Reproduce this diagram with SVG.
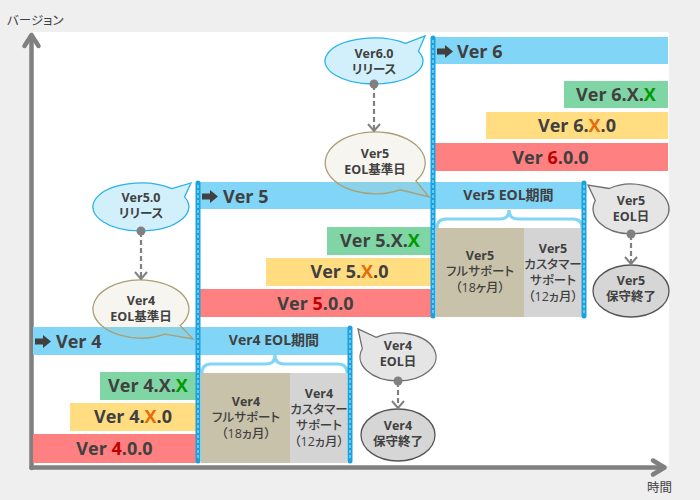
<svg xmlns="http://www.w3.org/2000/svg" width="700" height="500" viewBox="0 0 700 500">
<defs>
<style>
text{font-family:"Open Sans","Noto Sans CJK JP",sans-serif;fill:#404040;font-feature-settings:"palt";}
.big{font-size:18px;font-weight:bold;}
.bigc{font-size:18px;font-weight:bold;text-anchor:middle}
.mid{font-size:14px;font-weight:bold;text-anchor:middle}
.bub{font-size:12.5px;font-weight:bold;text-anchor:middle}
.box{font-size:12.5px;font-weight:500;text-anchor:middle}
.boxb{font-size:12.5px;font-weight:bold;text-anchor:middle}
.ax{font-size:12.5px}
.band{fill:#81d5f7}
.g{fill:#80d5a4}
.y{fill:#ffdd80}
.r{fill:#ff8080}
.full{fill:#c8c2aa}
.cust{fill:#d4d4d4}
.brace{fill:none;stroke:#81d5f7;stroke-width:3}
.vl{stroke:#1ba1dd;stroke-width:5;stroke-linecap:round}
.vld{stroke:#64c8f1;stroke-width:2;stroke-dasharray:3 2}
.rel{fill:#d2f0fb;stroke:#2ab3ea;stroke-width:1.3}
.base{fill:rgb(200,190,150);fill-opacity:.15;stroke:#a99f75;stroke-width:1.3}
.eol{fill:#e5e5e5;stroke:#6e6e6e;stroke-width:1.3}
.end{fill:#d6d6d6;stroke:#555555;stroke-width:1.3}
.conn{stroke:#808080;stroke-width:2.2;stroke-dasharray:5 3;fill:none}
.dot{fill:#808080}
.axis{stroke:#808080;stroke-width:4.5;fill:none;stroke-linecap:round;stroke-linejoin:round}
.ico{fill:#404040}
.xr{fill:#c00000}.xo{fill:#e46c0a}.xg{fill:#009a00}
</style>
<marker id="ah" viewBox="-2 -8 11 16" refX="7" refY="0" markerWidth="11" markerHeight="16" markerUnits="userSpaceOnUse" orient="auto">
<path d="M0,-6 L7,0 L0,6" fill="none" stroke="#808080" stroke-width="2"/>
</marker>
<path id="icon" d="M0,-3 h8 v-3.5 l8,6.5 l-8,6.5 v-3.5 h-8z"/>
</defs>

<rect x="0" y="0" width="700" height="500" fill="#efefef"/>
<rect x="33" y="32" width="636" height="434" fill="#ffffff"/>

<g id="axes">
<polyline class="axis" points="31.5,468 31.5,36"/>
<polyline class="axis" points="24.5,46 31.5,35 38.5,46"/>
<polyline class="axis" points="31.5,467.5 664,467.5"/>
<polyline class="axis" points="653,460.5 664.5,467.5 653,474.5"/>
<text class="ax" x="7" y="25">バージョン</text>
<text class="ax" x="647" y="492">時間</text>
</g>

<g id="ver6">
<rect class="band" x="433" y="37" width="235" height="27"/>
<use href="#icon" x="437" y="51.5" class="ico"/>
<text class="big" x="457" y="57.5">Ver 6</text>
<rect class="g" x="564" y="81" width="104" height="27"/>
<text class="bigc" x="616" y="101">Ver 6.X.<tspan class="xg">X</tspan></text>
<rect class="y" x="486" y="112" width="182" height="27"/>
<text class="bigc" x="577" y="132">Ver 6.<tspan class="xo">X</tspan>.0</text>
<rect class="r" x="433" y="143" width="235" height="28"/>
<text class="bigc" x="550.5" y="163.5">Ver <tspan class="xr">6</tspan>.0.0</text>
</g>

<g id="ver5">
<rect class="band" x="198" y="182" width="235" height="27"/>
<use href="#icon" x="202" y="196.5" class="ico"/>
<text class="big" x="223" y="202.5">Ver 5</text>
<rect class="g" x="327" y="227" width="106" height="28"/>
<text class="bigc" x="380" y="247">Ver 5.X.<tspan class="xg">X</tspan></text>
<rect class="y" x="266" y="258" width="167" height="28"/>
<text class="bigc" x="349.5" y="278">Ver 5.<tspan class="xo">X</tspan>.0</text>
<rect class="r" x="198" y="289" width="235" height="28"/>
<text class="bigc" x="315.5" y="309.5">Ver <tspan class="xr">5</tspan>.0.0</text>
</g>

<g id="ver4">
<rect class="band" x="33" y="327" width="165" height="28"/>
<use href="#icon" x="35" y="341.5" class="ico"/>
<text class="big" x="56" y="347.5">Ver 4</text>
<rect class="g" x="100" y="372" width="98" height="28"/>
<text class="bigc" x="148" y="392">Ver 4.X.<tspan class="xg">X</tspan></text>
<rect class="y" x="70" y="403" width="128" height="28"/>
<text class="bigc" x="133" y="423">Ver 4.<tspan class="xo">X</tspan>.0</text>
<rect class="r" x="33" y="434" width="165" height="29"/>
<text class="bigc" x="114.5" y="455">Ver <tspan class="xr">4</tspan>.0.0</text>
</g>

<g id="ver5-eol">
<rect class="band" x="433" y="182" width="151" height="27"/>
<text class="mid" x="508.5" y="200">Ver5 EOL期間</text>
<path class="brace" d="M437,228 Q437,219 446,219 L500,219 Q509,219 509,210 Q509,219 518,219 L573,219 Q582,219 582,228"/>
<rect class="full" x="436" y="228" width="88" height="89"/>
<text class="boxb" x="480" y="260">Ver5</text>
<text class="box" x="480" y="276">フルサポート</text>
<text class="box" x="480" y="292">（18ヶ月）</text>
<rect class="cust" x="524" y="228" width="58" height="89"/>
<text class="boxb" x="553" y="253">Ver5</text>
<text class="box" x="553" y="269">カスタマー</text>
<text class="box" x="553" y="285">サポート</text>
<text class="box" x="553" y="301">（12ヵ月）</text>
</g>

<g id="ver4-eol">
<rect class="band" x="198" y="327" width="152" height="28"/>
<text class="mid" x="274" y="345">Ver4 EOL期間</text>
<path class="brace" d="M202,373 Q202,364 211,364 L266,364 Q275,364 275,355 Q275,364 284,364 L338,364 Q347,364 347,373"/>
<rect class="full" x="201" y="373" width="89" height="90"/>
<text class="boxb" x="246" y="406">Ver4</text>
<text class="box" x="246" y="422">フルサポート</text>
<text class="box" x="246" y="438">（18ヵ月）</text>
<rect class="cust" x="290" y="373" width="57" height="90"/>
<text class="boxb" x="319" y="398">Ver4</text>
<text class="box" x="319" y="414">カスタマー</text>
<text class="box" x="319" y="430">サポート</text>
<text class="box" x="319" y="446">（12ヵ月）</text>
</g>

<g id="ver6-release">
<path class="rel" d="M405.5,43.4 L425,36 L418.4,51.3 A49,23 0 1 1 405.5,43.4 Z"/>
<text class="bub" x="374" y="57.5">Ver6.0</text>
<text class="bub" x="374" y="73.5">リリース</text>
</g>

<g id="ver5-eol-base">
<path class="base" d="M416,180.8 L429,197 L400,189.8 A50,31 0 1 1 416,180.8 Z"/>
<text class="bub" x="375" y="157.5">Ver5</text>
<text class="bub" x="375" y="173.5">EOL基準日</text>
</g>

<g id="ver5-release">
<path class="rel" d="M171.9,188.6 L191,183 L184.5,196.9 A48,24 0 1 1 171.9,188.6 Z"/>
<text class="bub" x="141" y="201.5">Ver5.0</text>
<text class="bub" x="141" y="217.5">リリース</text>
</g>

<g id="ver4-eol-base">
<path class="base" d="M180.3,325.6 L193,339 L165,334.1 A48,29 0 1 1 180.3,325.6 Z"/>
<text class="bub" x="141" y="304.5">Ver4</text>
<text class="bub" x="141" y="320.5">EOL基準日</text>
</g>

<g id="ver5-eol-day">
<path class="eol" d="M595.3,200.5 L588,185 L609.2,188.5 A38,25 0 1 1 595.3,200.5 Z"/>
<text class="bub" x="631" y="205">Ver5</text>
<text class="bub" x="631" y="221">EOL日</text>
</g>

<g id="ver5-end">
<ellipse class="end" cx="631" cy="291" rx="38" ry="26"/>
<text class="bub" x="631" y="285">Ver5</text>
<text class="bub" x="631" y="301">保守終了</text>
</g>

<g id="ver4-eol-day">
<path class="eol" d="M362.3,348.8 L358,329 L376.2,337.3 A38,24 0 1 1 362.3,348.8 Z"/>
<text class="bub" x="398" y="350">Ver4</text>
<text class="bub" x="398" y="366">EOL日</text>
</g>

<g id="ver4-end">
<ellipse class="end" cx="398" cy="435" rx="37" ry="26"/>
<text class="bub" x="398" y="430">Ver4</text>
<text class="bub" x="398" y="446">保守終了</text>
</g>

<g id="milestones">
<line class="vl" x1="433" y1="38" x2="433" y2="316"/>
<line class="vld" x1="433" y1="40" x2="433" y2="315"/>
<line class="vl" x1="198" y1="183" x2="198" y2="461"/>
<line class="vld" x1="198" y1="185" x2="198" y2="460"/>
<line class="vl" x1="584" y1="183" x2="584" y2="316"/>
<line class="vld" x1="584" y1="185" x2="584" y2="315"/>
<line class="vl" x1="350" y1="328" x2="350" y2="461"/>
<line class="vld" x1="350" y1="330" x2="350" y2="460"/>
</g>

<g id="connectors">
<line class="conn" x1="374" y1="85" x2="374" y2="131" marker-end="url(#ah)"/>
<circle class="dot" cx="374" cy="84" r="4.5"/>
<line class="conn" x1="141" y1="232" x2="141" y2="279" marker-end="url(#ah)"/>
<circle class="dot" cx="141" cy="231" r="4.5"/>
<line class="conn" x1="631" y1="235" x2="631" y2="264" marker-end="url(#ah)"/>
<circle class="dot" cx="631" cy="234" r="4.5"/>
<line class="conn" x1="398" y1="382" x2="398" y2="408" marker-end="url(#ah)"/>
<circle class="dot" cx="398" cy="381" r="4.5"/>
</g>
</svg>
